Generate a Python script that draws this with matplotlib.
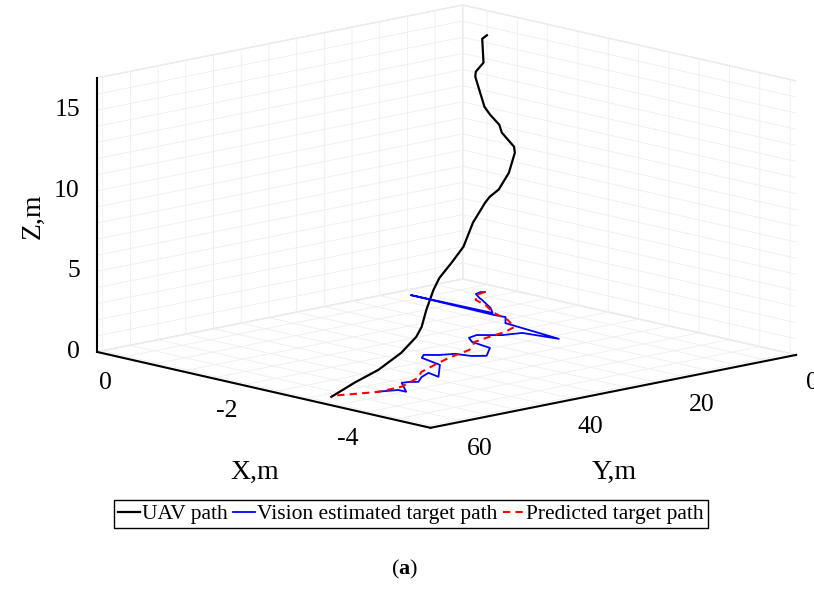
import numpy as np
import matplotlib.pyplot as plt
from matplotlib.ticker import MultipleLocator, FuncFormatter

# UAV descending onto the moving target
uav_x = [-0.30, -0.43, -0.66, -0.74, -0.94, -1.30, -1.60, -1.96, -2.21, -2.62,
         -2.84, -2.95, -2.99, -3.05, -3.18, -3.19, -3.24, -3.25, -3.26, -3.37,
         -3.46, -3.59, -3.71, -3.67, -3.50, -3.31, -3.14]
uav_y = [3.31, 5.58, 7.86, 10.13, 12.41, 14.68, 16.96, 19.23, 21.51, 23.78,
         26.05, 28.33, 30.60, 32.88, 35.15, 37.43, 39.70, 41.98, 44.25, 46.52,
         48.80, 51.07, 53.35, 55.62, 57.90, 60.17, 62.45]
uav_z = [15.95, 16.0, 14.87, 14.53, 14.55, 13.14, 13.07, 12.91, 12.79, 12.42,
         12.39, 11.40, 10.55, 10.31, 10.20, 9.14, 7.84, 7.00, 6.24, 5.75,
         4.74, 3.95, 3.59, 2.72, 1.67, 0.86, 0.0]

# vision estimated target path
vis_x = [-0.27, -0.24, -0.28, -0.46, -0.56, -0.93, -1.14, 0.18, -1.23, -1.40,
         -1.63, -2.65, -2.14, -2.07, -1.97, -1.87, -1.92, -2.10, -2.47, -2.75,
         -2.64, -2.43, -2.35, -2.23, -2.33, -2.74, -3.19, -2.96, -3.07, -3.23,
         -3.16, -3.14, -3.52, -3.39, -3.29]
vis_y = [3.35, 3.86, 5.08, 6.40, 7.01, 9.54, 11.47, 11.78, 12.18, 11.98,
         14.52, 16.04, 17.06, 19.90, 21.12, 22.34, 24.27, 25.69, 26.50, 30.16,
         31.68, 32.39, 34.42, 35.84, 37.26, 38.48, 43.66, 42.95, 45.39, 47.72,
         48.74, 49.75, 53.10, 53.10, 56.05]
vis_z = [0.0] * len(vis_x)

# predicted target path
pred_x = [-0.27, -0.32, -0.51, -0.77, -1.10, -1.53, -1.85, -1.97, -2.04, -2.12,
          -2.39, -2.54, -2.70, -2.87, -3.07, -3.29, -3.31, -3.10]
pred_y = [3.35, 5.48, 7.61, 8.73, 11.07, 13.00, 15.33, 18.28, 21.93, 25.38,
          29.34, 34.73, 38.99, 43.25, 46.00, 51.48, 55.85, 62.04]
pred_z = [0.0] * len(pred_x)

plt.rcParams['font.family'] = 'Liberation Serif'
plt.rcParams['mathtext.fontset'] = 'custom'
plt.rcParams['mathtext.bf'] = 'Liberation Serif:bold'
plt.rcParams['mathtext.rm'] = 'Liberation Serif'
plt.rcParams['axes.unicode_minus'] = False
plt.rcParams['grid.color'] = '#eeeeee'
plt.rcParams['grid.linewidth'] = 0.6

fig = plt.figure(figsize=(8.14, 5.93), dpi=100)
ax = fig.add_axes([0.041, 0.234, 1.0, 0.781], projection='3d')

ax.plot(uav_x, uav_y, uav_z, color='k', lw=1.6, label='UAV path')
ax.plot(vis_x, vis_y, vis_z, color='b', lw=1.3, label='Vision estimated target path')
ax.plot(pred_x, pred_y, pred_z, color='r', ls=(0, (3.5, 2.5)), lw=1.5, label='Predicted target path')

ax.set_xlim(-5.1, 0.4)
ax.set_ylim(0, 66)
ax.set_zlim(0, 17)
ax.set_proj_type('ortho')
ax.view_init(elev=12.3, azim=136.9)
ax.set_box_aspect((487, 500, 280), zoom=1.579)

ax.xaxis.set_major_locator(MultipleLocator(0.5))
ax.yaxis.set_major_locator(MultipleLocator(5))
ax.zaxis.set_major_locator(MultipleLocator(1))
ax.xaxis.set_major_formatter(FuncFormatter(lambda v, p: '%d' % round(v) if abs(v / 2 - round(v / 2)) < 1e-6 else ''))
ax.yaxis.set_major_formatter(FuncFormatter(lambda v, p: '%d' % round(v) if abs(v / 20 - round(v / 20)) < 1e-6 else ''))
ax.zaxis.set_major_formatter(FuncFormatter(lambda v, p: '%d' % round(v) if abs(v / 5 - round(v / 5)) < 1e-6 else ''))

for a in (ax.xaxis, ax.yaxis, ax.zaxis):
    a.set_pane_color((1, 1, 1, 1))
    a.pane.set_edgecolor('#e6e6e6')
    a.line.set_color('k')
    a.line.set_linewidth(1.5)
    a._axinfo['tick']['inward_factor'] = 0
    a._axinfo['tick']['outward_factor'] = 0
    a.set_tick_params(labelsize=18.5)

ax.xaxis.set_tick_params(pad=-0.5)
ax.yaxis.set_tick_params(pad=0.5)
ax.zaxis.set_ticks_position('upper')
ax.zaxis.set_tick_params(pad=-3.7)

# axis titles placed like the MATLAB export
fig.text(0.313, 0.203, 'X,m', ha='center', va='center', fontsize=20)
fig.text(0.754, 0.203, 'Y,m', ha='center', va='center', fontsize=20)
fig.text(0.041, 0.636, 'Z,m', ha='center', va='center', fontsize=20, rotation=90)

fig.legend(loc='center', bbox_to_anchor=(0.505, 0.133), ncol=3, fontsize=15.5,
           handlelength=1.0, handletextpad=0.1, columnspacing=0.25,
           borderpad=0.2, fancybox=False, framealpha=1, edgecolor='k')
fig.text(0.497, 0.040, r'($\mathbf{a}$)', ha='center', va='center', fontsize=16)

fig.canvas.draw()
for t in ax.zaxis.get_major_ticks():
    t.label1.set_horizontalalignment('right')
    t.label1.set_verticalalignment('center')

plt.savefig('out.png', dpi=100)
